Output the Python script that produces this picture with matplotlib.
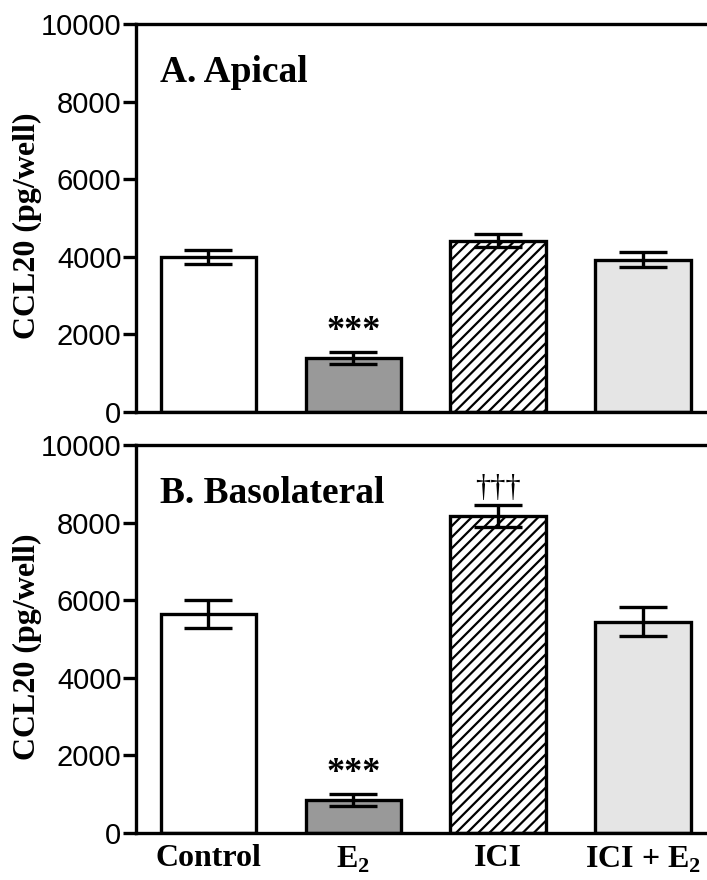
import matplotlib
matplotlib.use("Agg")
import matplotlib.pyplot as plt
import numpy as np

categories = ["Control", "E$_\\mathbf{2}$", "ICI", "ICI + E$_\\mathbf{2}$"]
apical_mean = [4000, 1400, 4420, 3930]
apical_sem = [180, 150, 160, 200]
baso_mean = [5650, 850, 8170, 5450]
baso_sem = [360, 150, 280, 370]
panel_titles = ["A. Apical", "B. Basolateral"]
yticks = [0, 2000, 4000, 6000, 8000, 10000]

plt.rcParams['mathtext.fontset'] = 'custom'
plt.rcParams['mathtext.rm'] = 'Liberation Serif:bold'
plt.rcParams['mathtext.bf'] = 'Liberation Serif:bold'
plt.rcParams['hatch.linewidth'] = 1.6

fills = ["white", "#999999", "white", "#e5e5e5"]
hatches = [None, None, "///", None]

fig = plt.figure(figsize=(7.07, 8.80), dpi=100)
axA = fig.add_axes([136/707, 1-412/880, 1-136/707, 388/880])
axB = fig.add_axes([136/707, 1-833/880, 1-136/707, 388/880])

x = np.arange(len(categories))
lw = 2.4
for ax, means, sems, title in [(axA, apical_mean, apical_sem, panel_titles[0]),
                               (axB, baso_mean, baso_sem, panel_titles[1])]:
    for i in range(len(categories)):
        ax.bar(x[i], means[i], width=0.66, color=fills[i], edgecolor="black",
               linewidth=lw, hatch=hatches[i], zorder=2)
    ax.errorbar(x, means, yerr=sems, fmt="none", ecolor="black", elinewidth=lw,
                capsize=17, capthick=lw, zorder=3)
    ax.set_xlim(-0.5, 3.44)
    ax.set_ylim(0, 10000)
    ax.set_yticks(yticks)
    ax.set_yticklabels([str(t) for t in yticks], family="Liberation Sans", fontsize=21)
    ax.tick_params(axis="y", length=9.5, width=lw, pad=1)
    ax.tick_params(axis="x", length=0)
    for s in ["left", "top", "bottom"]:
        ax.spines[s].set_linewidth(lw)
    ax.spines["right"].set_visible(False)
    ax.set_ylabel("CCL20 (pg/well)", family="Liberation Serif", fontweight="bold",
                  fontsize=23)
    ax.yaxis.set_label_coords(-0.165, 0.48)
    ax.text(0.042, 0.875, title, transform=ax.transAxes, family="Liberation Serif",
            fontweight="bold", fontsize=27, va="center", ha="left")

axA.set_xticks(x)
axA.set_xticklabels([])
axB.set_xticks(x)
axB.set_xticklabels(categories, family="Liberation Serif", fontweight="bold", fontsize=23)
axB.tick_params(axis="x", pad=8)

axA.text(x[1], apical_mean[1] + apical_sem[1] + 100, "***", ha="center", va="bottom",
         family="Liberation Serif", fontweight="bold", fontsize=26)
axB.text(x[1], baso_mean[1] + baso_sem[1] + 100, "***", ha="center", va="bottom",
         family="Liberation Serif", fontweight="bold", fontsize=26)
axB.text(x[2], baso_mean[2] + baso_sem[2] + 60, "\u2020\u2020\u2020", ha="center", va="bottom",
         family="Liberation Serif", fontsize=22)

fig.savefig("out.png", dpi=100)
